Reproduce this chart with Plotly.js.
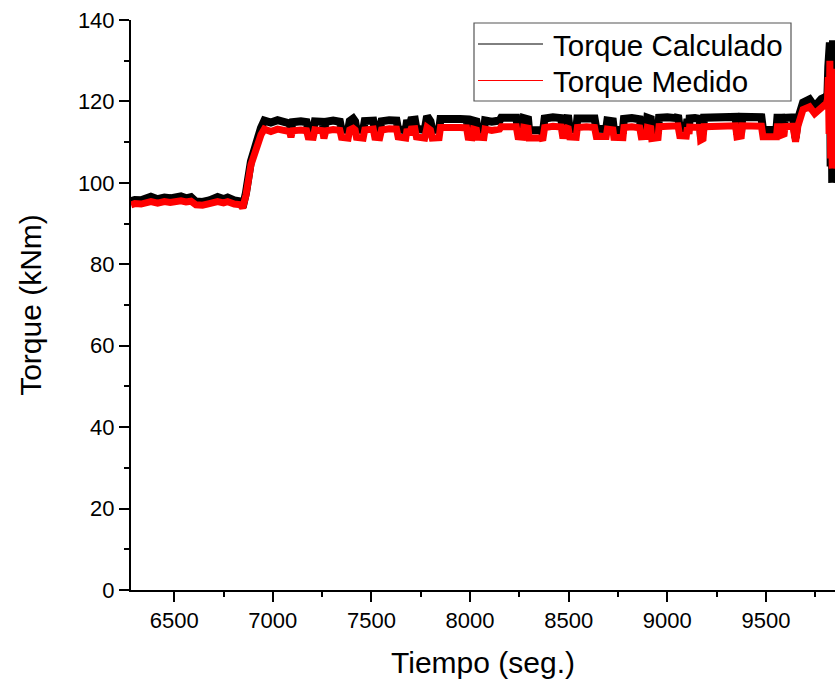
<!DOCTYPE html>
<html>
<head>
<meta charset="utf-8">
<script src="https://cdn.plot.ly/plotly-3.0.1.min.js"></script>
<style>html,body{margin:0;padding:0;background:#fff;}#chart{width:835px;height:682px;}</style>
</head>
<body>
<div id="chart"></div>
<script>
// Tiempo (seg.)
const tiempo = [6281,6300,6332,6360,6382,6416,6450,6480,6501,6534,6560,6585,6610,6644,6678,6700,6720,6750,6771,6805,6838,6847,6864,6889,6914,6940,6957,6990,7024,7058,7085,7092,7100,7142,7171,7179,7205,7213,7252,7259,7269,7306,7340,7348,7382,7390,7407,7417,7424,7458,7466,7509,7517,7542,7551,7590,7627,7635,7674,7681,7691,7701,7720,7728,7770,7782,7799,7808,7843,7850,7900,7950,7982,7990,8010,8017,8032,8038,8070,8076,8110,8150,8158,8200,8234,8243,8266,8272,8294,8299,8340,8361,8368,8378,8420,8462,8471,8484,8496,8505,8538,8544,8590,8631,8640,8672,8690,8696,8724,8729,8775,8780,8820,8860,8868,8894,8899,8916,8921,8953,8958,9000,9046,9054,9063,9096,9102,9110,9113,9140,9164,9169,9181,9186,9250,9316,9346,9353,9375,9380,9430,9477,9485,9520,9553,9558,9578,9582,9592,9596,9637,9650,9662,9688,9705,9721,9747,9781,9806,9812,9816,9820,9824,9828,9832,9836,9840,9844,9848];
// Torque Medido (kNm)
const torqueMedido = [94.6,94.9,94.8,95.2,95.4,95.0,95.4,95.2,95.4,95.6,95.3,95.5,94.6,94.5,94.9,95.2,95.4,95.1,95.4,94.8,94.6,93.8,97.0,104.4,108.5,111.8,113.2,112.6,113.2,112.8,112.6,111.2,112.8,113.0,112.8,111.3,111.2,113.0,112.8,110.9,112.8,113.1,112.9,111.2,111.0,113.0,113.4,113.0,111.2,111.0,113.0,113.2,111.2,111.1,113.0,113.3,113.2,111.3,111.0,113.2,111.8,113.2,113.3,111.3,111.0,113.6,113.0,111.0,111.1,113.6,113.8,113.6,113.5,111.2,111.1,113.2,113.0,111.2,111.1,113.2,112.9,113.2,113.8,114.0,113.8,111.3,111.2,113.6,113.4,111.0,111.2,111.0,110.4,113.6,113.9,113.7,110.9,113.3,113.8,111.3,111.2,113.6,113.8,113.6,111.4,111.3,111.4,113.2,113.0,111.2,111.1,113.6,113.8,113.5,111.3,111.4,113.6,113.4,110.9,111.1,113.8,113.9,113.7,114.0,111.6,111.5,113.6,112.0,113.7,113.8,113.6,110.5,110.8,113.8,114.0,114.2,114.0,111.3,111.5,114.0,114.0,113.9,111.3,111.4,111.3,113.8,113.8,111.8,112.0,113.8,113.9,110.1,114.0,118.0,118.6,118.7,117.0,118.8,119.5,120.5,126.0,112.0,130.0,106.0,128.0,103.5,125.0,108.0,122.0];
// Torque Calculado (kNm)
const torqueCalculado = [95.5,95.8,95.7,96.3,96.6,96.0,96.4,96.2,96.4,96.7,96.2,96.5,95.4,95.3,95.7,96.1,96.5,96.0,96.4,95.7,95.4,94.0,97.6,105.3,109.8,113.5,115.3,114.8,115.4,114.9,114.6,113.0,114.9,115.1,114.9,113.2,113.1,115.1,115.0,112.8,115.0,115.3,115.0,113.1,113.0,115.2,115.8,115.1,113.1,113.0,115.2,115.3,113.1,113.0,115.1,115.4,115.3,113.2,112.9,115.4,113.7,115.4,115.5,113.3,113.0,116.4,115.1,113.0,113.1,115.7,115.9,115.7,115.6,113.1,113.0,115.3,115.1,113.1,113.0,115.3,115.0,115.3,116.0,116.2,116.0,113.2,113.1,115.9,115.6,112.9,113.1,112.9,112.0,115.8,116.1,115.9,112.6,115.4,116.6,113.2,113.1,115.8,116.0,115.8,113.3,113.2,113.2,115.3,115.1,113.0,113.0,115.7,115.9,115.6,113.1,113.2,116.0,115.7,112.8,113.0,116.0,116.1,115.9,116.6,113.4,113.3,115.7,113.8,115.8,115.9,115.7,112.3,112.6,116.0,116.2,116.5,116.2,112.9,113.1,116.2,116.3,116.1,113.0,113.1,113.0,116.0,116.0,113.6,113.8,116.0,116.1,111.0,115.6,119.7,120.4,120.5,118.7,120.6,121.2,122.0,128.5,113.0,134.5,104.0,133.0,100.0,135.0,106.0,128.0];
// Axis ticks
const xTicks = [6500,7000,7500,8000,8500,9000,9500];
const yTicks = [0,20,40,60,80,100,120,140];
const seriesNames = ['Torque Calculado','Torque Medido'];

const FONT = 'Arial, "Liberation Sans", sans-serif';
const L = 131, R = 835, T = 20, B = 590;
const px = x => (x - L) / (R - L);
const py = y => (B - y) / (B - T);

const traces = [
  {x: tiempo, y: torqueCalculado, type: 'scatter', mode: 'lines', name: seriesNames[0],
   line: {color: '#000000', width: 8}, showlegend: false, hoverinfo: 'skip'},
  {x: tiempo, y: torqueMedido, type: 'scatter', mode: 'lines', name: seriesNames[1],
   line: {color: '#ff0000', width: 7}, showlegend: false, hoverinfo: 'skip'}
];

const axisCommon = {
  showgrid: false, zeroline: false, showline: true, linecolor: '#000', linewidth: 2,
  ticks: 'outside', ticklen: 10, tickwidth: 2, tickcolor: '#000',
  tickfont: {family: FONT, size: 22, color: '#000'}, mirror: false
};

const layout = {
  width: 835, height: 682,
  margin: {l: L, r: 835 - R, t: T, b: 682 - B, pad: 0},
  paper_bgcolor: '#fff', plot_bgcolor: '#fff',
  showlegend: false,
  xaxis: Object.assign({}, axisCommon, {
    range: [6281, 9850], tickvals: xTicks, ticktext: xTicks.map(String),
    minor: {ticks: 'outside', ticklen: 5, tickwidth: 2, tickcolor: '#000', dtick: 250, tick0: 6250, showgrid: false},
    title: {text: 'Tiempo (seg.)', font: {family: FONT, size: 30, color: '#000'}, standoff: 20}
  }),
  yaxis: Object.assign({}, axisCommon, {
    range: [0, 140], tickvals: yTicks, ticktext: yTicks.map(String),
    minor: {ticks: 'outside', ticklen: 5, tickwidth: 2, tickcolor: '#000', dtick: 10, tick0: 0, showgrid: false},
    title: {text: 'Torque (kNm)', font: {family: FONT, size: 30, color: '#000'}, standoff: 27}
  }),
  shapes: [
    {type: 'rect', xref: 'paper', yref: 'paper', x0: px(474), x1: px(791), y0: py(101), y1: py(23),
     line: {color: '#555', width: 1.2}, fillcolor: '#fff', layer: 'above'},
    {type: 'line', xref: 'paper', yref: 'paper', x0: px(478), x1: px(543), y0: py(44), y1: py(44),
     line: {color: '#000', width: 1}, layer: 'above'},
    {type: 'line', xref: 'paper', yref: 'paper', x0: px(478), x1: px(543), y0: py(80.5), y1: py(80.5),
     line: {color: '#ff0000', width: 1}, layer: 'above'}
  ],
  annotations: [
    {xref: 'paper', yref: 'paper', x: px(551), y: py(45), xanchor: 'left', yanchor: 'middle',
     text: seriesNames[0], showarrow: false, font: {family: FONT, size: 29.5, color: '#000'}},
    {xref: 'paper', yref: 'paper', x: px(551), y: py(81), xanchor: 'left', yanchor: 'middle',
     text: seriesNames[1], showarrow: false, font: {family: FONT, size: 29.5, color: '#000'}}
  ]
};

Plotly.newPlot('chart', traces, layout, {staticPlot: true, displayModeBar: false});
</script>
</body>
</html>
